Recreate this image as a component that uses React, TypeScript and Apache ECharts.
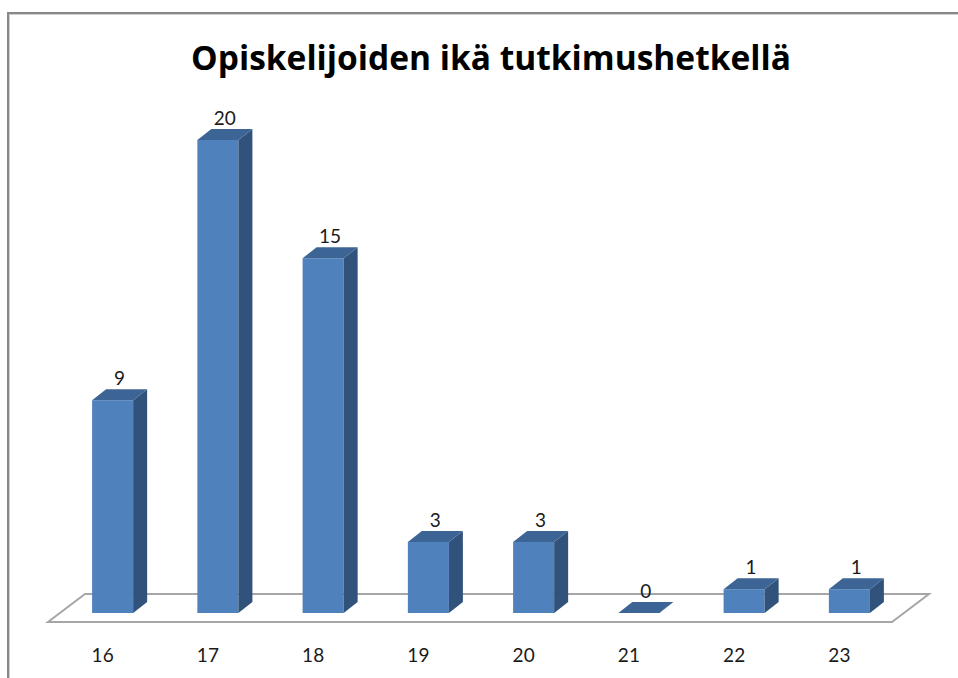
import React, { useEffect, useRef } from "react";
import * as echarts from "echarts";

const titleText = "Opiskelijoiden ikä tutkimushetkellä";
const ages = ["16", "17", "18", "19", "20", "21", "22", "23"];
const counts = [9, 20, 15, 3, 3, 0, 1, 1];

const FONT = "Lato, 'Noto Sans', sans-serif";
const TITLE_FONT = "'Open Sans', 'Noto Sans', sans-serif";
const DX = 14; // bar depth x
const DY = 11; // bar depth y
const FRONT = "#4F81BD";
const TOP = "#3C6595";
const SIDE = "#31527B";

export default function App() {
  const ref = useRef<HTMLDivElement>(null);
  useEffect(() => {
    if (!ref.current) return;
    const chart = echarts.init(ref.current, null, { renderer: "svg" });
    const option: any = {
      animation: false,
      backgroundColor: "#ffffff",
      title: {
        text: titleText,
        left: 486,
        top: 35,
        textAlign: "center",
        textStyle: { fontFamily: TITLE_FONT, fontWeight: "bold", fontSize: 33.5, color: "#000" },
      },
      graphic: [
        { type: "line", shape: { x1: 8, y1: 13, x2: 958, y2: 13 }, style: { stroke: "#888888", lineWidth: 2 } },
        { type: "line", shape: { x1: 8, y1: 14.5, x2: 958, y2: 14.5 }, style: { stroke: "#d0d0d0", lineWidth: 1 } },
        { type: "line", shape: { x1: 8, y1: 12, x2: 8, y2: 678 }, style: { stroke: "#888888", lineWidth: 2 } },
        { type: "line", shape: { x1: 9.5, y1: 14, x2: 9.5, y2: 678 }, style: { stroke: "#d0d0d0", lineWidth: 1 } },
      ],
      grid: { left: 60, width: 842, top: 140, height: 473, containLabel: false },
      xAxis: {
        type: "category",
        data: ages,
        axisLine: { show: false },
        axisTick: { show: false },
        splitLine: { show: false },
        axisLabel: {
          margin: 32,
          fontFamily: FONT,
          fontSize: 19,
          color: "#1a1a1a",
          padding: [0, 20, 0, 0],
        },
      },
      yAxis: { type: "value", min: 0, max: 20, show: false },
      series: [
        {
          type: "custom",
          z: 1,
          silent: true,
          data: [[0, 0]],
          renderItem: (params: any, api: any) => {
            const cs = params.coordSys;
            const base = cs.y + cs.height;
            const fy = base + 9;
            const fl = cs.x - 12;
            const fr = cs.x + cs.width - 10;
            return {
              type: "polygon",
              shape: {
                points: [
                  [fl, fy],
                  [fr, fy],
                  [fr + 37, fy - 28],
                  [fl + 37, fy - 28],
                ],
              },
              style: { fill: "#ffffff", stroke: "#a6a6a6", lineWidth: 2 },
            };
          },
        },
        {
          type: "custom",
          z: 2,
          data: counts.map((v, i) => [i, v]),
          encode: { x: 0, y: 1 },
          renderItem: (params: any, api: any) => {
            const idx = api.value(0);
            const val = api.value(1);
            const top = api.coord([idx, val]);
            const bot = api.coord([idx, 0]);
            const bw = api.size([1, 0])[0] * 0.39;
            const l = top[0] - bw / 2;
            const r = top[0] + bw / 2;
            const t = top[1];
            const b = bot[1];
            const children: any[] = [];
            if (b - t > 0.5) {
              children.push({
                type: "rect",
                shape: { x: l, y: t, width: bw, height: b - t },
                style: { fill: FRONT },
              });
              children.push({
                type: "polygon",
                shape: { points: [[r, t], [r + DX, t - DY], [r + DX, b - DY], [r, b]] },
                style: { fill: SIDE },
              });
            }
            children.push({
              type: "polygon",
              shape: { points: [[l, t], [l + DX, t - DY], [r + DX, t - DY], [r, t]] },
              style: { fill: TOP },
            });
            children.push({
              type: "text",
              style: {
                text: String(val),
                x: top[0] + DX / 2,
                y: t - DY - 12,
                align: "center",
                verticalAlign: "middle",
                fontFamily: FONT,
                fontSize: 19,
                fill: "#1a1a1a",
              },
            });
            return { type: "group", children };
          },
        },
      ],
    };
    chart.setOption(option);
    return () => chart.dispose();
  }, []);
  return (
    <div
      ref={ref}
      style={{ position: "fixed", left: 0, top: 0, width: 958, height: 678 }}
    />
  );
}
